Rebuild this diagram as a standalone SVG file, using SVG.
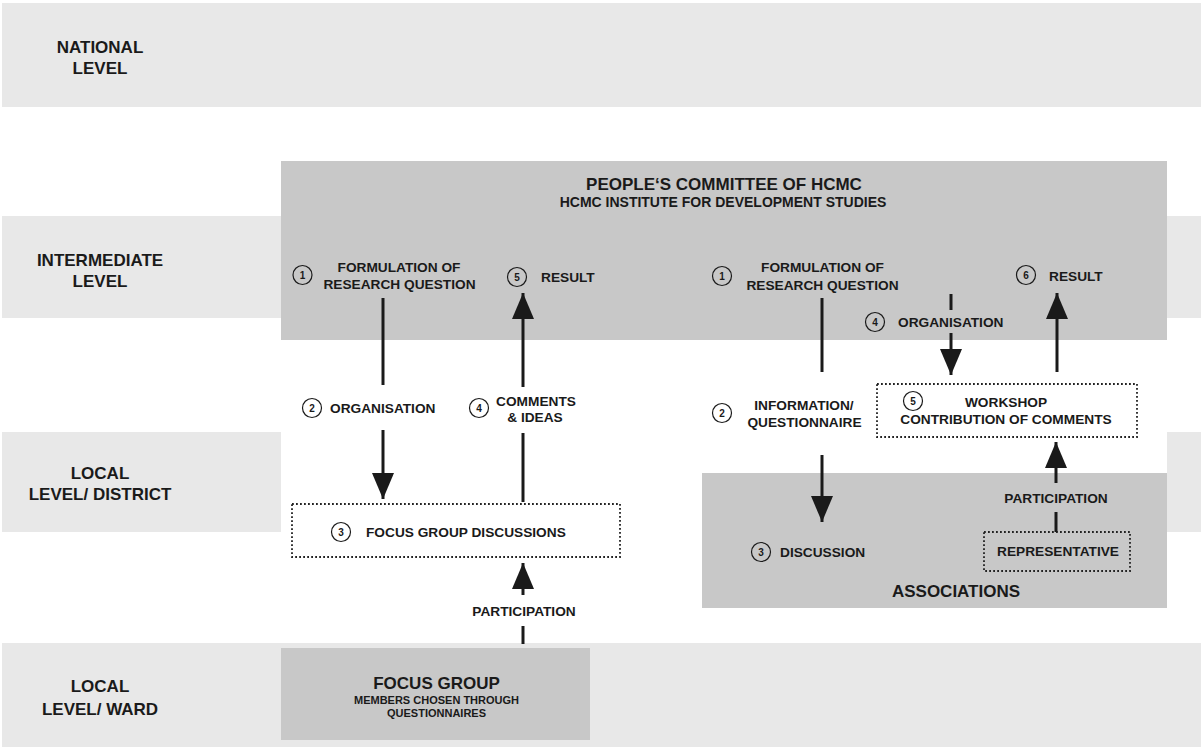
<svg xmlns="http://www.w3.org/2000/svg" width="1201" height="747" viewBox="0 0 1201 747">
<style>
.band{fill:#e8e8e8}
.box{fill:#c8c8c8}
.dot{fill:none;stroke:#222;stroke-width:1.8;stroke-dasharray:1.8 2.2}
.t{font-family:"Liberation Sans",Arial,sans-serif;font-weight:bold;fill:#1a1a1a;font-size:13.7px}
.lv{font-size:17px;text-anchor:middle}
.m{text-anchor:middle}
.big{font-size:17px}
.num circle{fill:none;stroke:#1a1a1a;stroke-width:1.2}
.num text{font-family:"Liberation Sans",Arial,sans-serif;font-weight:bold;font-size:10px;fill:#1a1a1a;text-anchor:middle}
.c{stroke:#1a1a1a;stroke-width:3;fill:none}
</style>
<defs>
<marker id="ah" markerUnits="userSpaceOnUse" markerWidth="26" markerHeight="22" refX="26" refY="11" orient="auto" viewBox="0 0 26 22">
<path d="M0,0 L26,11 L0,22 z" fill="#1a1a1a"/>
</marker>
</defs>
<rect width="1201" height="747" fill="#fff"/>
<g id="levels">
<rect class="band" x="2" y="3" width="1199" height="104"/>
<rect class="band" x="2" y="216" width="1199" height="102"/>
<rect class="band" x="2" y="432" width="279" height="100"/>
<rect class="band" x="1167" y="432" width="34" height="100"/>
<rect class="band" x="2" y="643" width="1199" height="104"/>
<text class="t lv" x="100" y="52.5">NATIONAL</text>
<text class="t lv" x="100" y="73.5">LEVEL</text>
<text class="t lv" x="100" y="266">INTERMEDIATE</text>
<text class="t lv" x="100" y="287">LEVEL</text>
<text class="t lv" x="100" y="479">LOCAL</text>
<text class="t lv" x="100" y="500">LEVEL/ DISTRICT</text>
<text class="t lv" x="100" y="692">LOCAL</text>
<text class="t lv" x="100" y="715">LEVEL/ WARD</text>
</g>
<g id="committee">
<rect class="box" x="281" y="161" width="886" height="179"/>
<text class="t m big" x="724" y="190">PEOPLE‘S COMMITTEE OF HCMC</text>
<text class="t m" x="723" y="207" style="font-size:14px">HCMC INSTITUTE FOR DEVELOPMENT STUDIES</text>
</g>
<g id="associations">
<rect class="box" x="702" y="473" width="465" height="135"/>
<text class="t m big" x="956" y="597">ASSOCIATIONS</text>
</g>
<g id="focus-group">
<rect class="box" x="281" y="648" width="309" height="92"/>
<text class="t m big" x="436.5" y="689">FOCUS GROUP</text>
<text class="t m" x="436.5" y="704" style="font-size:11px">MEMBERS CHOSEN THROUGH</text>
<text class="t m" x="436.5" y="717" style="font-size:11px">QUESTIONNAIRES</text>
</g>
<g id="left-formulation">
<g class="num"><circle cx="302.5" cy="275" r="9.5"/><text x="302.5" y="278.5">1</text></g>
<text class="t m" x="399" y="272">FORMULATION OF</text>
<text class="t m" x="399.5" y="289">RESEARCH QUESTION</text>
</g>
<g id="left-result">
<g class="num"><circle cx="517" cy="277" r="9.5"/><text x="517" y="280.5">5</text></g>
<text class="t" x="541" y="282">RESULT</text>
</g>
<g id="right-formulation">
<g class="num"><circle cx="722" cy="276" r="9.5"/><text x="722" y="279.5">1</text></g>
<text class="t m" x="822.5" y="272">FORMULATION OF</text>
<text class="t m" x="822.5" y="289.5">RESEARCH QUESTION</text>
</g>
<g id="right-result">
<g class="num"><circle cx="1026" cy="275" r="9.5"/><text x="1026" y="278.5">6</text></g>
<text class="t" x="1049" y="281">RESULT</text>
</g>
<g id="fgd">
<rect class="dot" x="292" y="504" width="328" height="53" fill="#fff" style="fill:#fff"/>
<g class="num"><circle cx="341" cy="532" r="9.5"/><text x="341" y="535.5">3</text></g>
<text class="t" x="366" y="537">FOCUS GROUP DISCUSSIONS</text>
</g>
<g id="workshop">
<rect class="dot" x="877" y="384" width="260" height="53" style="fill:#fff"/>
<g class="num"><circle cx="913" cy="401" r="9.5"/><text x="913" y="404.5">5</text></g>
<text class="t m" x="1006" y="407">WORKSHOP</text>
<text class="t m" x="1006" y="424">CONTRIBUTION OF COMMENTS</text>
</g>
<g id="discussion">
<g class="num"><circle cx="761" cy="552" r="9.5"/><text x="761" y="555.5">3</text></g>
<text class="t" x="780" y="557">DISCUSSION</text>
</g>
<g id="representative">
<rect class="dot" x="984" y="532" width="146" height="39"/>
<text class="t m" x="1058" y="556">REPRESENTATIVE</text>
</g>
<g id="connectors">
<line class="c" x1="383" y1="298" x2="383" y2="385"/>
<line class="c" x1="383" y1="430" x2="383" y2="499" marker-end="url(#ah)"/>
<line class="c" x1="523" y1="502" x2="523" y2="433"/>
<line class="c" x1="523" y1="387" x2="523" y2="293" marker-end="url(#ah)"/>
<line class="c" x1="523" y1="644" x2="523" y2="626"/>
<line class="c" x1="523" y1="595" x2="523" y2="563" marker-end="url(#ah)"/>
<line class="c" x1="822" y1="298" x2="822" y2="372"/>
<line class="c" x1="822" y1="455" x2="822" y2="522" marker-end="url(#ah)"/>
<line class="c" x1="951" y1="294" x2="951" y2="310"/>
<line class="c" x1="951" y1="333" x2="951" y2="375" marker-end="url(#ah)"/>
<line class="c" x1="1057" y1="372" x2="1057" y2="293" marker-end="url(#ah)"/>
<line class="c" x1="1056" y1="532" x2="1056" y2="512"/>
<line class="c" x1="1056" y1="483" x2="1056" y2="442" marker-end="url(#ah)"/>
<g id="label-left-org">
<g class="num"><circle cx="312" cy="408" r="9.5"/><text x="312" y="411.5">2</text></g>
<text class="t" x="330" y="413">ORGANISATION</text>
</g>
<g id="label-comments">
<g class="num"><circle cx="479" cy="408" r="9.5"/><text x="479" y="411.5">4</text></g>
<text class="t m" x="536" y="406">COMMENTS</text>
<text class="t m" x="535" y="422">&amp; IDEAS</text>
</g>
<text class="t m" x="524" y="616">PARTICIPATION</text>
<g id="label-info">
<g class="num"><circle cx="722" cy="413" r="9.5"/><text x="722" y="416.5">2</text></g>
<text class="t m" x="804" y="410">INFORMATION/</text>
<text class="t m" x="804.5" y="427">QUESTIONNAIRE</text>
</g>
<g id="label-right-org">
<g class="num"><circle cx="875" cy="322" r="9.5"/><text x="875" y="325.5">4</text></g>
<text class="t" x="898" y="327">ORGANISATION</text>
</g>
<text class="t m" x="1056" y="503">PARTICIPATION</text>
</g>
</svg>
